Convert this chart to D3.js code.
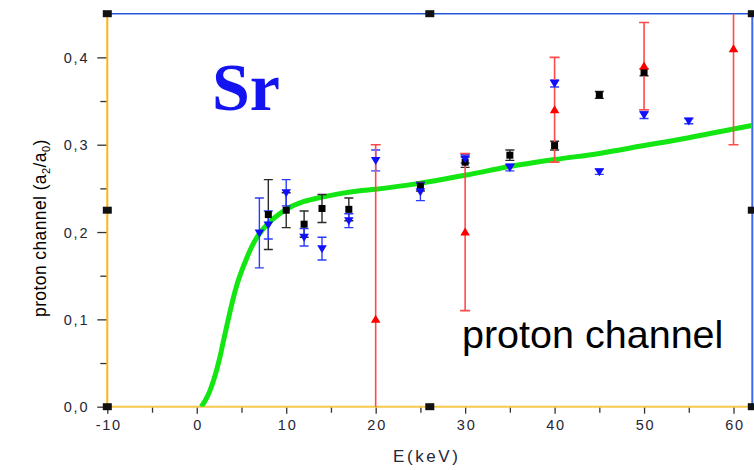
<!DOCTYPE html>
<html>
<head>
<meta charset="utf-8">
<script src="https://cdn.jsdelivr.net/npm/d3@7"></script>
<style>
  html, body { margin: 0; padding: 0; background: #fff; }
  svg { display: block; font-family: "Liberation Sans", Arial, sans-serif; }
</style>
</head>
<body>
<svg id="chart" width="754" height="470"></svg>
<script>
// Measured points: energy (keV), value, error
const blackE   = [8, 10, 12, 14, 17, 25, 30, 35, 40, 45, 50];
const blackV   = [0.220, 0.225, 0.209, 0.227, 0.226, 0.252, 0.280, 0.288, 0.299, 0.357, 0.383];
const blackErr = [0.040, 0.020, 0.015, 0.016, 0.013, 0.005, 0.006, 0.006, 0.005, 0.004, 0.004];

const blueE   = [7, 8, 10, 12, 14, 17, 20, 25, 30, 35, 40, 45, 50, 55];
const blueV   = [0.199, 0.208, 0.245, 0.194, 0.181, 0.213, 0.282, 0.246, 0.284, 0.274, 0.370, 0.269, 0.334, 0.327];
const blueErr = [0.040, 0.016, 0.015, 0.010, 0.013, 0.008, 0.012, 0.010, 0.005, 0.004, 0.004, 0.003, 0.004, 0.003];

const redE   = [20, 30, 40, 50, 60];
const redV   = [0.10, 0.20, 0.34, 0.39, 0.41];
const redErr = [0.20, 0.09, 0.06, 0.05, 0.11];

// Theory curve
const curveE = [0.5, 1, 1.5, 2, 2.5, 3, 3.5, 4, 4.5, 5, 5.5, 6, 6.5, 7, 8, 9, 10, 12, 14, 16, 18, 20, 25, 30, 35, 40, 45, 50, 55, 60, 62.1];
const curveV = [0, 0.008, 0.019, 0.034, 0.053, 0.076, 0.099, 0.121, 0.140, 0.155, 0.168, 0.180, 0.190, 0.198, 0.210, 0.219, 0.226, 0.235, 0.240, 0.244, 0.247, 0.249, 0.256, 0.265, 0.275, 0.283, 0.290, 0.299, 0.308, 0.318, 0.322];

const xTicks = [-10, 0, 10, 20, 30, 40, 50, 60];
const xMinor = [-5, 5, 15, 25, 35, 45, 55];
const yTicks = [0, 0.1, 0.2, 0.3, 0.4];
const yMinor = [0.05, 0.15, 0.25, 0.35];

const svg = d3.select("#chart");
const L = 107.3, R = 752.3, T = 13.7, B = 406.7;

const x = d3.scaleLinear().domain([-10, 62.1]).range([L, R]);
const y = d3.scaleLinear().domain([0, 0.45]).range([B, T]);

const tickColor = "#333";
const labelColor = "#262636";
const fmt = v => d3.format(".1f")(v).replace(".", ",");

svg.append("defs").append("clipPath").attr("id", "plot")
  .append("rect").attr("x", L).attr("y", T).attr("width", R - L).attr("height", B - T);

// Axes: ticks and labels
const gy = svg.append("g").attr("transform", `translate(${L},0)`)
  .call(d3.axisLeft(y).tickValues(yTicks).tickFormat(fmt).tickSize(10).tickPadding(8));
const gyMinor = svg.append("g").attr("transform", `translate(${L},0)`)
  .call(d3.axisLeft(y).tickValues(yMinor).tickFormat("").tickSize(7));
const gx = svg.append("g").attr("transform", `translate(0,${B})`)
  .call(d3.axisBottom(x).tickValues(xTicks).tickFormat(d => String(d)).tickSize(7).tickPadding(6));
const gxMinor = svg.append("g").attr("transform", `translate(0,${B})`)
  .call(d3.axisBottom(x).tickValues(xMinor).tickFormat("").tickSize(6));

[gy, gyMinor, gx, gxMinor].forEach(g => {
  g.select(".domain").remove();
  g.selectAll(".tick line").attr("stroke", tickColor).attr("stroke-width", 1.3);
  g.selectAll(".tick text")
    .attr("fill", labelColor)
    .style("font-family", "'Liberation Sans', Arial, sans-serif")
    .style("font-size", "14.5px")
    .style("letter-spacing", "1.8px");
});
gy.selectAll(".tick text").attr("dy", "0.36em");
gx.selectAll(".tick text").attr("dx", "1px");

// Frame lines
svg.append("line").attr("x1", L).attr("x2", R).attr("y1", T).attr("y2", T)
  .attr("stroke", "#2458d8").attr("stroke-width", 1.6);
svg.append("line").attr("x1", R).attr("x2", R).attr("y1", T).attr("y2", B)
  .attr("stroke", "#3a6cf2").attr("stroke-width", 2);
svg.append("line").attr("x1", L).attr("x2", R).attr("y1", B).attr("y2", B)
  .attr("stroke", "#f6c84e").attr("stroke-width", 2);
svg.append("line").attr("x1", L).attr("x2", L).attr("y1", T).attr("y2", B)
  .attr("stroke", "#ffb414").attr("stroke-width", 2);

// Data layer
const plot = svg.append("g").attr("clip-path", "url(#plot)");

const line = d3.line().x((d, i) => x(curveE[i])).y(d => y(d)).curve(d3.curveMonotoneX);
plot.append("path").datum(curveV).attr("d", line)
  .attr("fill", "none").attr("stroke", "#14e614").attr("stroke-width", 5);

function errorBars(E, V, Err, color, cap, width) {
  const g = plot.append("g").attr("stroke", color).attr("stroke-width", width).attr("fill", "none");
  E.forEach((e, i) => {
    const cx = x(e), y0 = y(V[i] - Err[i]), y1 = y(V[i] + Err[i]);
    g.append("line").attr("x1", cx).attr("x2", cx).attr("y1", y0).attr("y2", y1);
    g.append("line").attr("x1", cx - cap).attr("x2", cx + cap).attr("y1", y0).attr("y2", y0);
    g.append("line").attr("x1", cx - cap).attr("x2", cx + cap).attr("y1", y1).attr("y2", y1);
  });
}

errorBars(blackE, blackV, blackErr, "#2a2a2a", 4.5, 1.4);
errorBars(blueE, blueV, blueErr, "#2b3cff", 4.5, 1.4);
errorBars(redE, redV, redErr, "#ff4a4a", 5, 1.6);

// Markers
plot.append("g").selectAll("rect").data(blackE).join("rect")
  .attr("x", (d) => x(d) - 3.5).attr("y", (d, i) => y(blackV[i]) - 3.5)
  .attr("width", 7).attr("height", 7).attr("fill", "#000");

const tri = 4.8;
plot.append("g").selectAll("path").data(blueE).join("path")
  .attr("d", (d, i) => {
    const cx = x(d), cy = y(blueV[i]);
    return `M${cx - tri},${cy - 3.5}L${cx + tri},${cy - 3.5}L${cx},${cy + 4.5}Z`;
  })
  .attr("fill", "#1010ff");

plot.append("g").selectAll("path").data(redE).join("path")
  .attr("d", (d, i) => {
    const cx = x(d), cy = y(redV[i]);
    return `M${cx - tri},${cy + 3.5}L${cx + tri},${cy + 3.5}L${cx},${cy - 4.5}Z`;
  })
  .attr("fill", "#ff0000");

// Selection handles on the frame
const hx = [x.domain()[0], (x.domain()[0] + x.domain()[1]) / 2, x.domain()[1]];
const hy = [y.domain()[0], (y.domain()[0] + y.domain()[1]) / 2, y.domain()[1]];
const handles = [];
hx.forEach((a, i) => hy.forEach((b, j) => { if (!(i === 1 && j === 1)) handles.push([a, b]); }));
svg.append("g").selectAll("rect").data(handles).join("rect")
  .attr("x", d => x(d[0]) - 4.5).attr("y", d => y(d[1]) - 3.5)
  .attr("width", 9).attr("height", 7).attr("fill", "#111");

// Text
svg.append("text").attr("x", 212).attr("y", 110)
  .style("font-family", "'Liberation Serif', 'Times New Roman', serif")
  .style("font-weight", "bold").style("font-size", "68px")
  .attr("fill", "#1414f0").text("Sr");

svg.append("text").attr("x", 462).attr("y", 348)
  .style("font-size", "39.5px").attr("fill", "#000").text("proton channel");

svg.append("text").attr("x", 393).attr("y", 462)
  .style("font-size", "17px").style("letter-spacing", "2.6px")
  .attr("fill", labelColor).text("E(keV)");

const yl = svg.append("text")
  .attr("transform", "translate(46,317) rotate(-90)")
  .style("font-size", "17.5px").style("letter-spacing", "0.4px")
  .attr("fill", "#000");
yl.append("tspan").text("proton channel (a");
yl.append("tspan").attr("dy", 4).style("font-size", "11px").text("2");
yl.append("tspan").attr("dy", -4).text("/a");
yl.append("tspan").attr("dy", 4).style("font-size", "11px").text("0");
yl.append("tspan").attr("dy", -4).text(")");
</script>
</body>
</html>
